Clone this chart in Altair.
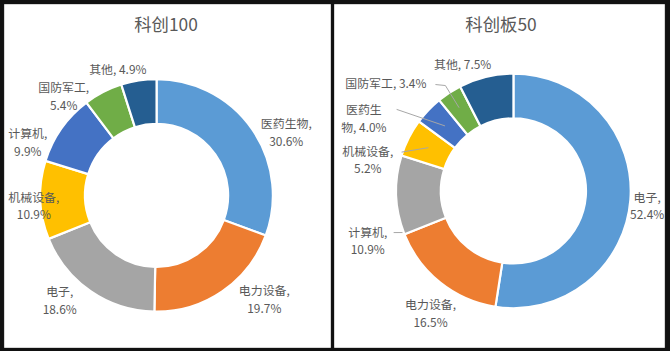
import math
import numpy as np
import pandas as pd
import altair as alt

# ---------------- data ----------------
left_title = "科创100"
left_cats = ["医药生物", "电力设备", "电子", "机械设备", "计算机", "国防军工", "其他"]
left_vals = [30.6, 19.7, 18.6, 10.9, 9.9, 5.4, 4.9]

right_title = "科创板50"
right_cats = ["电子", "电力设备", "计算机", "机械设备", "医药生物", "国防军工", "其他"]
right_vals = [52.4, 16.5, 10.9, 5.2, 4.0, 3.4, 7.5]

# ---------------- style ----------------
PALETTE = ["#5B9BD5", "#ED7D31", "#A5A5A5", "#FFC000", "#4472C4", "#70AD47", "#255E91"]
TEXT_COLOR = "#595959"
FONT = "Noto Sans CJK SC"

# label line-break position (character index, None = single line)
left_breaks = [5, 5, 3, 5, 4, 5, None]
right_breaks = [3, 5, 4, 5, 3, None, None]
# label placement: angular nudge (deg) from the slice middle, and distance (px)
left_shift = [6.2, -13.9, 10.4, 1.1, -9.7, -13.6, -8.3]
left_rad = [148.8, 145.2, 137.9, 123.5, 143.4, 142.5, 132.4]
right_shift = [-1.4, -2.6, -13.9, -12.0, -15.2, -17.0, -8.4]
right_rad = [134.7, 142.0, 152.4, 151.6, 170.9, 167.2, 136.9]
# leader lines (right chart): points as (deg offset from slice middle, radius)
right_leaders = {
    "计算机": [(-17.1, 127.6), (-18.5, 119.2)],
    "机械设备": [(-7.8, 119.1), (0.0, 96.0)],
    "医药生物": [(-8.6, 143.3), (0.0, 95.0)],
    "国防军工": [(-3.1, 132.7), (0.3, 126.2), (0.0, 100.0)],
}


def make_label(cat, val, brk):
    s = f"{cat}, {val:.1f}%"
    if brk is None:
        return s
    return s[:brk].rstrip() + "\n" + s[brk:].lstrip()


def panel(title, cats, vals, breaks, shifts, rads, leaders, center, ring, size, title_x):
    cx, cy = center
    total = float(sum(vals))
    cum = np.concatenate([[0.0], np.cumsum(vals)])
    mids = (cum[:-1] + cum[1:]) / 2.0 / total * 2 * math.pi
    df = pd.DataFrame({
        "cat": cats,
        "val": vals,
        "idx": list(range(len(cats))),
        "label": [make_label(c, v, b) for c, v, b in zip(cats, vals, breaks)],
        "lt": [m + math.radians(s) for m, s in zip(mids, shifts)],
        "lr": rads,
    })
    base = alt.Chart(df)
    arcs = base.mark_arc(
        innerRadius=ring[0], outerRadius=ring[1], stroke="white", strokeWidth=2.2
    ).encode(
        theta=alt.Theta("val:Q", stack=True),
        color=alt.Color(
            "idx:N",
            scale=alt.Scale(domain=list(range(len(PALETTE))), range=PALETTE),
            legend=None,
        ),
        order=alt.Order("idx:Q"),
        x=alt.value(cx),
        y=alt.value(cy),
    )
    labels = base.mark_text(
        font=FONT, fontSize=12, lineBreak="\n", lineHeight=17.5,
        color=TEXT_COLOR, align="center", baseline="middle",
    ).encode(
        theta=alt.Theta("lt:Q", scale=None, stack=None),
        radius=alt.Radius("lr:Q", scale=None),
        text="label:N",
        x=alt.value(cx),
        y=alt.value(cy),
    )
    ttl = alt.Chart(pd.DataFrame({"t": [title]})).mark_text(
        font=FONT, fontSize=17.5, color=TEXT_COLOR, align="center", baseline="middle"
    ).encode(text="t:N", x=alt.value(title_x), y=alt.value(22.5))
    layers = [arcs, labels, ttl]
    if leaders:
        rows = []
        mid_of = dict(zip(cats, mids))
        for cat, pts in leaders.items():
            for o, (da, r) in enumerate(pts):
                a = mid_of[cat] + math.radians(da)
                rows.append({"cat": cat, "o": o,
                             "px": cx + r * math.sin(a), "py": cy - r * math.cos(a)})
        ld = pd.DataFrame(rows)
        lines = alt.Chart(ld).mark_line(color="#A6A6A6", strokeWidth=1).encode(
            x=alt.X("px:Q", scale=None),
            y=alt.Y("py:Q", scale=None),
            detail="cat:N",
            order="o:Q",
        )
        layers.insert(1, lines)
    return alt.layer(*layers).properties(width=size[0], height=size[1])


left = panel(left_title, left_cats, left_vals, left_breaks, left_shift, left_rad,
             None, (153.5, 192.5), (72, 117), (328, 345), 163)
right = panel(right_title, right_cats, right_vals, right_breaks, right_shift, right_rad,
              right_leaders, (180.5, 188), (73, 118), (332, 345), 168)

chart = alt.hconcat(left, right, spacing=2).properties(
    padding={"left": 3, "top": 2, "right": 5, "bottom": 4},
    background="#111111",
).configure_view(stroke="#D9D9D9", strokeWidth=1, fill="white")

chart.save("out.html", embed_options={"renderer": "svg", "actions": False})
